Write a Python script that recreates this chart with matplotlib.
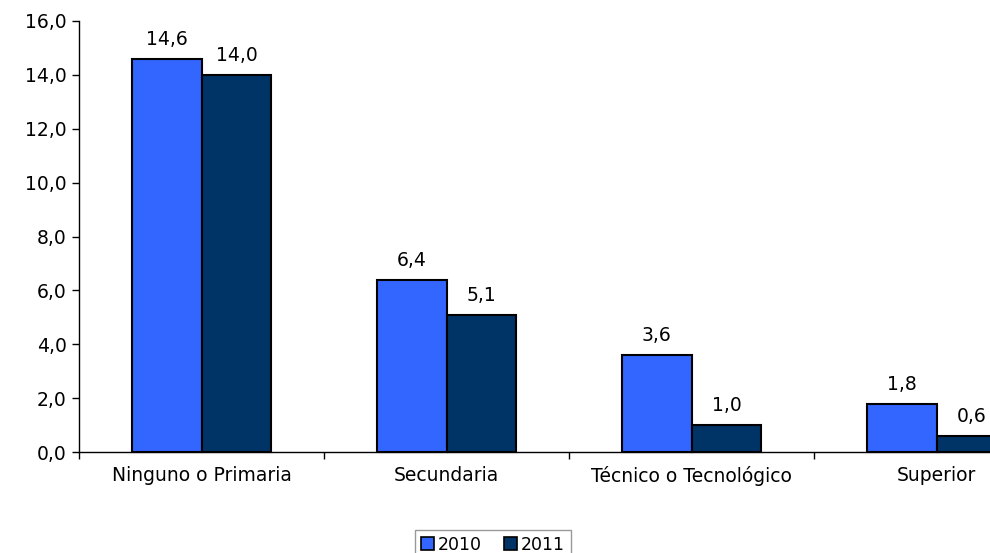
import matplotlib
matplotlib.use("Agg")
import matplotlib.pyplot as plt
import numpy as np
from matplotlib.patches import Patch

categories = ["Ninguno o Primaria", "Secundaria", "Técnico o Tecnológico", "Superior"]
series_names = ["2010", "2011"]
values_2010 = [14.6, 6.4, 3.6, 1.8]
values_2011 = [14.0, 5.1, 1.0, 0.6]
yticks = [0, 2, 4, 6, 8, 10, 12, 14, 16]
colors = ["#3366FF", "#003366"]

plt.rcParams['font.family'] = ['DejaVu Sans']

FS = 13.5
W, H = 990, 553
fig = plt.figure(figsize=(W / 100, H / 100), dpi=100)
# axis spans 4 categories of ~245 px each; the right part is cut off by the figure edge
left, right = 79, 79 + 4 * 245
bottom, top = 452, 21
ax = fig.add_axes([left / W, (H - bottom) / H, (right - left) / W, (bottom - top) / H])

x = np.arange(len(categories))
bw = 0.285
for i, (vals, name) in enumerate(zip([values_2010, values_2011], series_names)):
    pos = x + (i - 0.5) * bw
    ax.bar(pos, vals, width=bw, color=colors[i], edgecolor="black", linewidth=1.5, label=name, clip_on=False)
    for p, v in zip(pos, vals):
        ax.annotate(f"{v:.1f}".replace(".", ","), (p, v), xytext=(0, 7), textcoords="offset points",
                    ha="center", va="bottom", fontsize=FS, annotation_clip=False)

ax.set_xlim(-0.5, len(categories) - 0.5)
ax.set_ylim(0, 16)
ax.set_yticks(yticks)
ax.set_yticklabels([f"{t:.1f}".replace(".", ",") for t in yticks], fontsize=FS)
ax.set_xticks(x)
ax.set_xticklabels(categories, fontsize=FS)
ax.tick_params(axis="x", length=0, pad=10)
ax.set_xticks(np.arange(len(categories) + 1) - 0.5, minor=True)
ax.tick_params(axis="x", which="minor", length=5, direction="out", width=1)
ax.tick_params(axis="y", length=5, direction="out", width=1, pad=4)
for s in ["top", "right"]:
    ax.spines[s].set_visible(False)
for s in ["left", "bottom"]:
    ax.spines[s].set_linewidth(1)

handles = [Patch(facecolor=c, edgecolor="black", linewidth=1.2) for c in colors]
leg = fig.legend(handles, series_names, loc="upper center", bbox_to_anchor=(493 / W, (H - 521) / H),
                 ncol=2, frameon=True, fancybox=False, fontsize=12.5, handlelength=0.75, handleheight=0.75,
                 handletextpad=0.2, columnspacing=1.3, borderpad=0.35)
leg.get_frame().set_edgecolor("#808080")
leg.get_frame().set_linewidth(1)

fig.savefig("out.png", dpi=100)
